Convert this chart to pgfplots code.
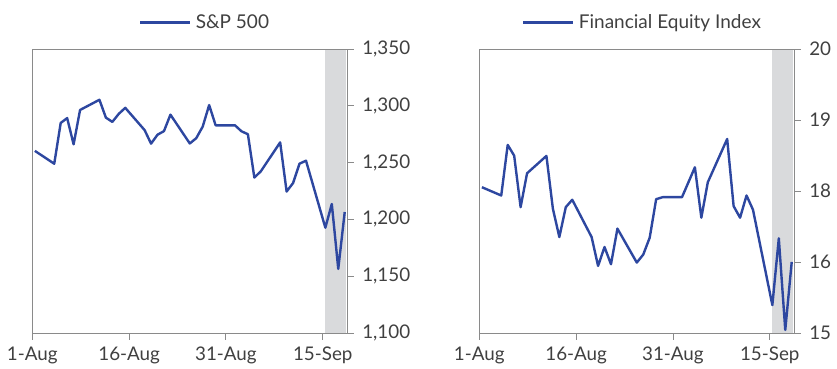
\documentclass[border=0pt]{standalone}
\usepackage{pgfplots}
\pgfplotsset{compat=1.18}
\usepackage{fontspec}
\setmainfont{Lato}
\definecolor{lineblue}{HTML}{2D47A0}
\definecolor{shadegray}{HTML}{D9DADC}
\definecolor{axgray}{HTML}{8A8A8A}
\definecolor{txt}{HTML}{404040}

\pgfplotstableread{
d v
0 1260.31
3 1249.01
4 1284.88
5 1289.19
6 1266.07
7 1296.32
10 1305.32
11 1289.59
12 1285.83
13 1292.93
14 1298.20
17 1278.60
18 1266.69
19 1274.54
20 1277.72
21 1292.20
24 1266.84
25 1271.51
26 1281.66
27 1300.68
28 1282.83
31 1282.83
32 1277.58
33 1274.98
34 1236.83
35 1242.31
38 1267.79
39 1224.51
40 1232.04
41 1249.05
42 1251.70
45 1192.70
46 1213.60
47 1156.39
48 1206.51
}\spx

\pgfplotstableread{
d v
0 17.567
3 17.421
4 18.311
5 18.123
6 17.216
7 17.812
10 18.118
11 17.188
12 16.689
13 17.216
14 17.346
17 16.689
18 16.181
19 16.514
20 16.211
21 16.837
24 16.240
25 16.381
26 16.679
27 17.356
28 17.391
31 17.391
32 17.654
33 17.918
34 17.030
35 17.654
38 18.416
39 17.233
40 17.030
41 17.421
42 17.170
45 15.491
46 16.667
47 15.053
48 16.251
}\fin

\pgfplotsset{
  panel/.style={
    scale only axis,
    anchor=south west,
    width=315bp, height=284bp,
    xmin=-0.4, xmax=48.4,
    xtick={-0.4,14.6,29.6,44.6},
    xticklabels={1-Aug,16-Aug,31-Aug,15-Sep},
    axis y line*=right,
    axis x line*=bottom,
    axis line style={draw=axgray, line width=0.9pt},
    tick style={draw=axgray, line width=0.9pt},
    tick align=outside,
    major tick length=6.5bp,
    minor tick num=0,
    ticklabel style={font=\fontsize{18.8bp}{20bp}\selectfont, text=txt},
    xticklabel style={yshift=-4bp},
    yticklabel style={xshift=5bp},
    /pgf/number format/assume math mode=true,
    clip=false,
    legend style={draw=none, fill=none, inner sep=0pt, anchor=west,
      font=\fontsize{19bp}{20bp}\selectfont, text=txt,
      nodes={inner sep=4.5bp},
      every odd column/.style={column sep=4bp}},
    legend image code/.code={\draw[#1, line width=2.4bp] (0bp,0bp) -- (50bp,0bp);},
  },
}

\begin{document}
\begin{tikzpicture}
\path[use as bounding box] (0,0) rectangle (837bp,369bp);

% left panel
\begin{axis}[panel, at={(32.3bp,36bp)},
  ymin=1100, ymax=1350,
  ytick={1100,1150,1200,1250,1300,1350},
  yticklabels={{1,100},{1,150},{1,200},{1,250},{1,300},{1,350}},
  legend style={at={(axis description cs:0.338,1.094)}},
]
\fill[shadegray] (axis cs:44.9,1100) rectangle (axis cs:48.2,1349);
\draw[axgray, line width=0.9pt] (axis cs:-0.4,1100) -- (axis cs:-0.4,1350) -- (axis cs:48.4,1350);
\addplot[lineblue, line width=2.4bp, line join=round] table[x=d,y=v] {\spx};
\addlegendentry{S\&P 500}
\end{axis}

% right panel
\begin{axis}[panel, at={(479.3bp,36bp)},
  ymin=15, ymax=20,
  ytick={15,16.25,17.5,18.75,20},
  yticklabels={15,16,18,19,20},
  legend style={at={(axis description cs:0.135,1.094)}},
]
\fill[shadegray] (axis cs:44.9,15) rectangle (axis cs:48.2,19.98);
\draw[axgray, line width=0.9pt] (axis cs:-0.4,15) -- (axis cs:-0.4,20) -- (axis cs:48.4,20);
\addplot[lineblue, line width=2.4bp, line join=round] table[x=d,y=v] {\fin};
\addlegendentry{Financial Equity Index}
\end{axis}
\end{tikzpicture}
\end{document}
